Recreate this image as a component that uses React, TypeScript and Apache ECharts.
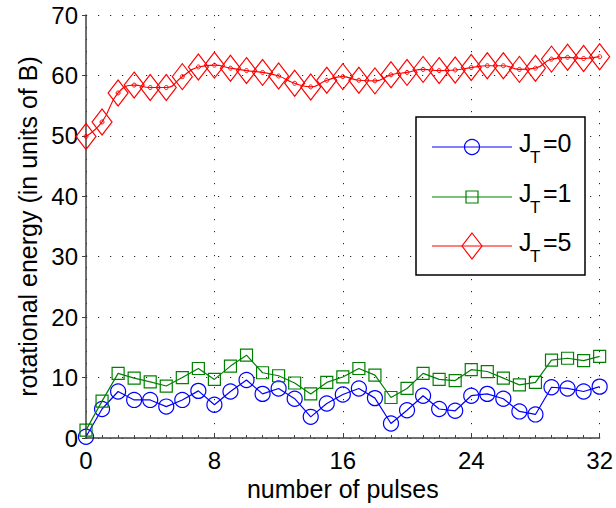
import React, { useEffect, useRef } from "react";
import * as echarts from "echarts";

const pulses = Array.from({ length: 33 }, (_, i) => i);
const xTicks = [0, 8, 16, 24, 32];
const yTicks = [0, 10, 20, 30, 40, 50, 60, 70];

const jt0 = [0.2, 4.8, 7.7, 6.3, 6.3, 5.2, 6.3, 7.8, 5.5, 7.7, 9.6, 7.3, 8.2, 6.5, 3.5, 5.7, 7.2,
  8.2, 6.6, 2.4, 4.6, 7.0, 4.8, 4.5, 7.0, 7.3, 6.5, 4.4, 3.9, 8.4, 8.2, 7.7, 8.5];
const jt1 = [1.3, 6.1, 10.7, 9.9, 9.3, 8.6, 10.0, 11.5, 9.7, 11.9, 13.7, 10.8, 10.3, 9.1, 7.3, 9.2, 10.1,
  11.5, 10.4, 6.7, 8.2, 10.7, 9.7, 9.5, 11.3, 11.0, 9.9, 8.8, 9.2, 12.9, 13.2, 12.8, 13.5];
const jt5 = [49.9, 52.3, 57.1, 58.4, 58.0, 58.0, 59.8, 61.4, 61.7, 61.2, 60.8, 60.5, 59.9, 58.7, 58.1, 59.2, 59.8,
  59.2, 59.1, 60.1, 60.5, 61.0, 60.8, 60.9, 61.3, 61.6, 61.6, 61.0, 61.2, 62.7, 63.0, 62.8, 63.1];

const legendItems = [
  { sub: "T", rest: "=0", color: "#0000ff", symbol: "circle" },
  { sub: "T", rest: "=1", color: "#008000", symbol: "square" },
  { sub: "T", rest: "=5", color: "#ff0000", symbol: "diamond" },
];

const FONT = "Liberation Sans, Arial, Helvetica, sans-serif";

export default function App() {
  const ref = useRef<HTMLDivElement>(null);
  useEffect(() => {
    if (!ref.current) return;
    const chart = echarts.init(ref.current, null, { renderer: "svg" });
    const pair = (arr: number[]) => arr.map((v, i) => [pulses[i], v]);

    const legendGraphics: any[] = [
      {
        type: "rect",
        shape: { x: 416, y: 117, width: 169, height: 158 },
        style: { fill: "#fff", stroke: "#000", lineWidth: 1.5 },
        z: 100,
      },
    ];
    const rowY = [147, 197, 246];
    legendItems.forEach((it, i) => {
      const y = rowY[i];
      legendGraphics.push({
        type: "line",
        shape: { x1: 432, y1: y, x2: 512, y2: y },
        style: { stroke: it.color, lineWidth: 1.2 },
        z: 101,
      });
      if (it.symbol === "circle") {
        legendGraphics.push({
          type: "circle",
          shape: { cx: 472, cy: y, r: 7.5 },
          style: { fill: "none", stroke: it.color, lineWidth: 1.2 },
          z: 102,
        });
      } else if (it.symbol === "square") {
        legendGraphics.push({
          type: "rect",
          shape: { x: 466, y: y - 6, width: 12, height: 12 },
          style: { fill: "none", stroke: it.color, lineWidth: 1.2 },
          z: 102,
        });
      } else {
        legendGraphics.push({
          type: "polygon",
          shape: { points: [[472, y - 13], [482, y], [472, y + 13], [462, y]] },
          style: { fill: "none", stroke: it.color, lineWidth: 1.2 },
          z: 102,
        });
      }
      legendGraphics.push({
        type: "text",
        x: 519,
        y: y - 4,
        style: { text: "J", font: `25px ${FONT}`, fill: "#000", verticalAlign: "middle", align: "left" },
        z: 102,
      });
      legendGraphics.push({
        type: "text",
        x: 530,
        y: y + 10,
        style: { text: it.sub, font: `17px ${FONT}`, fill: "#000", verticalAlign: "middle", align: "left" },
        z: 102,
      });
      legendGraphics.push({
        type: "text",
        x: 543,
        y: y - 4,
        style: { text: it.rest, font: `25px ${FONT}`, fill: "#000", verticalAlign: "middle", align: "left" },
        z: 102,
      });
    });

    chart.setOption({
      animation: false,
      backgroundColor: "#fff",
      textStyle: { fontFamily: FONT },
      grid: { left: 86, right: 15, top: 15, bottom: 70 },
      xAxis: {
        type: "value",
        min: xTicks[0],
        max: xTicks[xTicks.length - 1],
        interval: 8,
        name: "number of pulses",
        nameLocation: "middle",
        nameGap: 35,
        nameTextStyle: { fontSize: 25, color: "#000", fontFamily: FONT },
        axisLine: { show: true, onZero: false, lineStyle: { color: "#404040", width: 1.5 } },
        axisTick: { show: true, inside: true, length: 5, lineStyle: { color: "#404040" } },
        minorTick: { show: true, splitNumber: 8, length: 3, lineStyle: { color: "#404040" } },
        axisLabel: { fontSize: 24, color: "#000", margin: 10, fontFamily: FONT },
        splitLine: { show: true, lineStyle: { color: "#222", width: 1, type: [1.2, 10.8] } },
      },
      yAxis: {
        type: "value",
        min: yTicks[0],
        max: yTicks[yTicks.length - 1],
        interval: 10,
        name: "rotational energy (in units of B)",
        nameLocation: "middle",
        nameGap: 42,
        nameTextStyle: { fontSize: 25, color: "#000", fontFamily: FONT },
        axisLine: { show: true, lineStyle: { color: "#404040", width: 1.5 } },
        axisTick: { show: true, length: 4, lineStyle: { color: "#404040" } },
        axisLabel: { fontSize: 24, color: "#000", margin: 8, fontFamily: FONT },
        splitLine: { show: true, lineStyle: { color: "#222", width: 1, type: [1.2, 10.8] } },
      },
      graphic: legendGraphics,
      series: [
        {
          name: "JT=0",
          type: "line",
          data: pair(jt0),
          symbol: "circle",
          symbolSize: 15,
          itemStyle: { color: "rgba(0,0,0,0)", borderColor: "#0000ff", borderWidth: 1.2 },
          lineStyle: { color: "#0000ff", width: 1.2 },
          z: 3,
        },
        {
          name: "JT=1",
          type: "line",
          data: pair(jt1),
          symbol: "rect",
          symbolSize: 12,
          itemStyle: { color: "rgba(0,0,0,0)", borderColor: "#008000", borderWidth: 1.2 },
          lineStyle: { color: "#008000", width: 1.2 },
          z: 4,
        },
        {
          name: "JT=5",
          type: "line",
          data: pair(jt5),
          smooth: 0.5,
          symbol: "diamond",
          symbolSize: [20, 26],
          itemStyle: { color: "rgba(0,0,0,0)", borderColor: "#ff0000", borderWidth: 1.2 },
          lineStyle: { color: "#ff0000", width: 1.2 },
          z: 5,
        },
        {
          name: "JT=5 dots",
          type: "line",
          data: pair(jt5),
          symbol: "circle",
          symbolSize: 4,
          lineStyle: { opacity: 0 },
          itemStyle: { color: "rgba(0,0,0,0)", borderColor: "#ff0000", borderWidth: 1 },
          z: 5,
        },
      ],
    });
    return () => chart.dispose();
  }, []);
  return (
    <div
      ref={ref}
      style={{ position: "fixed", left: 0, top: 0, width: 616, height: 508 }}
    />
  );
}
